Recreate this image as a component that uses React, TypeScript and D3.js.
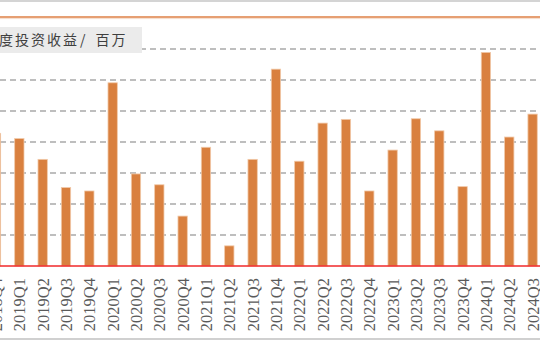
import React from "react";
import * as d3 from "d3";

const categories = [
  "2018Q4",
  "2019Q1", "2019Q2", "2019Q3", "2019Q4",
  "2020Q1", "2020Q2", "2020Q3", "2020Q4",
  "2021Q1", "2021Q2", "2021Q3", "2021Q4",
  "2022Q1", "2022Q2", "2022Q3", "2022Q4",
  "2023Q1", "2023Q2", "2023Q3", "2023Q4",
  "2024Q1", "2024Q2", "2024Q3",
];
const values = [
  428,
  411, 344, 253, 242,
  591, 297, 262, 161,
  383, 65, 344, 635,
  338, 461, 473, 242,
  374, 475, 436, 256,
  689, 416, 490,
];
const gridTicks = [100, 200, 300, 400, 500, 600, 700];
const titleText = "度投资收益";
const unitText = "/百万";

const W = 540;
const H = 340;

export default function App() {
  const step = 23.33;
  const x0 = -4 - step / 2;
  const x = d3
    .scaleBand<string>()
    .domain(categories)
    .range([x0, x0 + step * categories.length])
    .paddingInner(0.6)
    .paddingOuter(0.3);
  const y = d3.scaleLinear().domain([0, 800]).range([266, 18]);
  const bw = x.bandwidth();

  return (
    <svg
      width={W}
      height={H}
      style={{ position: "absolute", left: 0, top: 0, background: "#fff" }}
    >
      <rect x={0} y={0} width={W} height={H} fill="#ffffff" />
      {/* top gray border */}
      <line x1={0} x2={W} y1={1} y2={1} stroke="#D4D4D4" strokeWidth={2} />
      {/* orange header line */}
      <line x1={0} x2={W} y1={17} y2={17} stroke="#DE7F45" strokeWidth={1.5} />
      <line x1={0} x2={W} y1={18.6} y2={18.6} stroke="#F6DCCB" strokeWidth={1} />
      {/* gridlines */}
      {gridTicks.map((t) => (
        <line
          key={t}
          x1={0}
          x2={W}
          y1={y(t)}
          y2={y(t)}
          stroke="#A9A9A9"
          strokeWidth={1.5}
          strokeDasharray="6,4"
        />
      ))}
      {/* bars */}
      {categories.map((c, i) => (
        <rect
          key={c}
          x={x(c)}
          y={y(values[i])}
          width={bw}
          height={y(0) - y(values[i])}
          fill="#D9803F"
          stroke="#F1C9A9"
          strokeWidth={0.8}
        />
      ))}
      {/* baseline */}
      <line x1={0} x2={W} y1={y(0)} y2={y(0)} stroke="#F0282A" strokeWidth={1.5} />
      {/* x labels */}
      {categories.map((c) => {
        const cx = (x(c) as number) + bw / 2;
        return (
          <text
            key={"l" + c}
            transform={`translate(${cx},278) rotate(-90)`}
            textAnchor="end"
            dy="0.36em"
            fontFamily="Liberation Serif, Times New Roman, serif"
            fontSize={16.5}
            fill="#5A5A5A"
          >
            {c}
          </text>
        );
      })}
      {/* title box */}
      <rect x={0} y={27} width={142} height={26} fill="#EBEBEB" />
      <text
        x={-1}
        y={45}
        fontFamily="'Noto Sans CJK SC', sans-serif"
        fontSize={14}
        letterSpacing={2}
        fill="#3F3F3F"
      >
        {titleText}
        <tspan dx={1}>{unitText.slice(0, 1)}</tspan>
        <tspan dx={8}>{unitText.slice(1)}</tspan>
      </text>
      {/* bottom gray border */}
      <line x1={0} x2={W} y1={339} y2={339} stroke="#D0D0D0" strokeWidth={2} />
    </svg>
  );
}
